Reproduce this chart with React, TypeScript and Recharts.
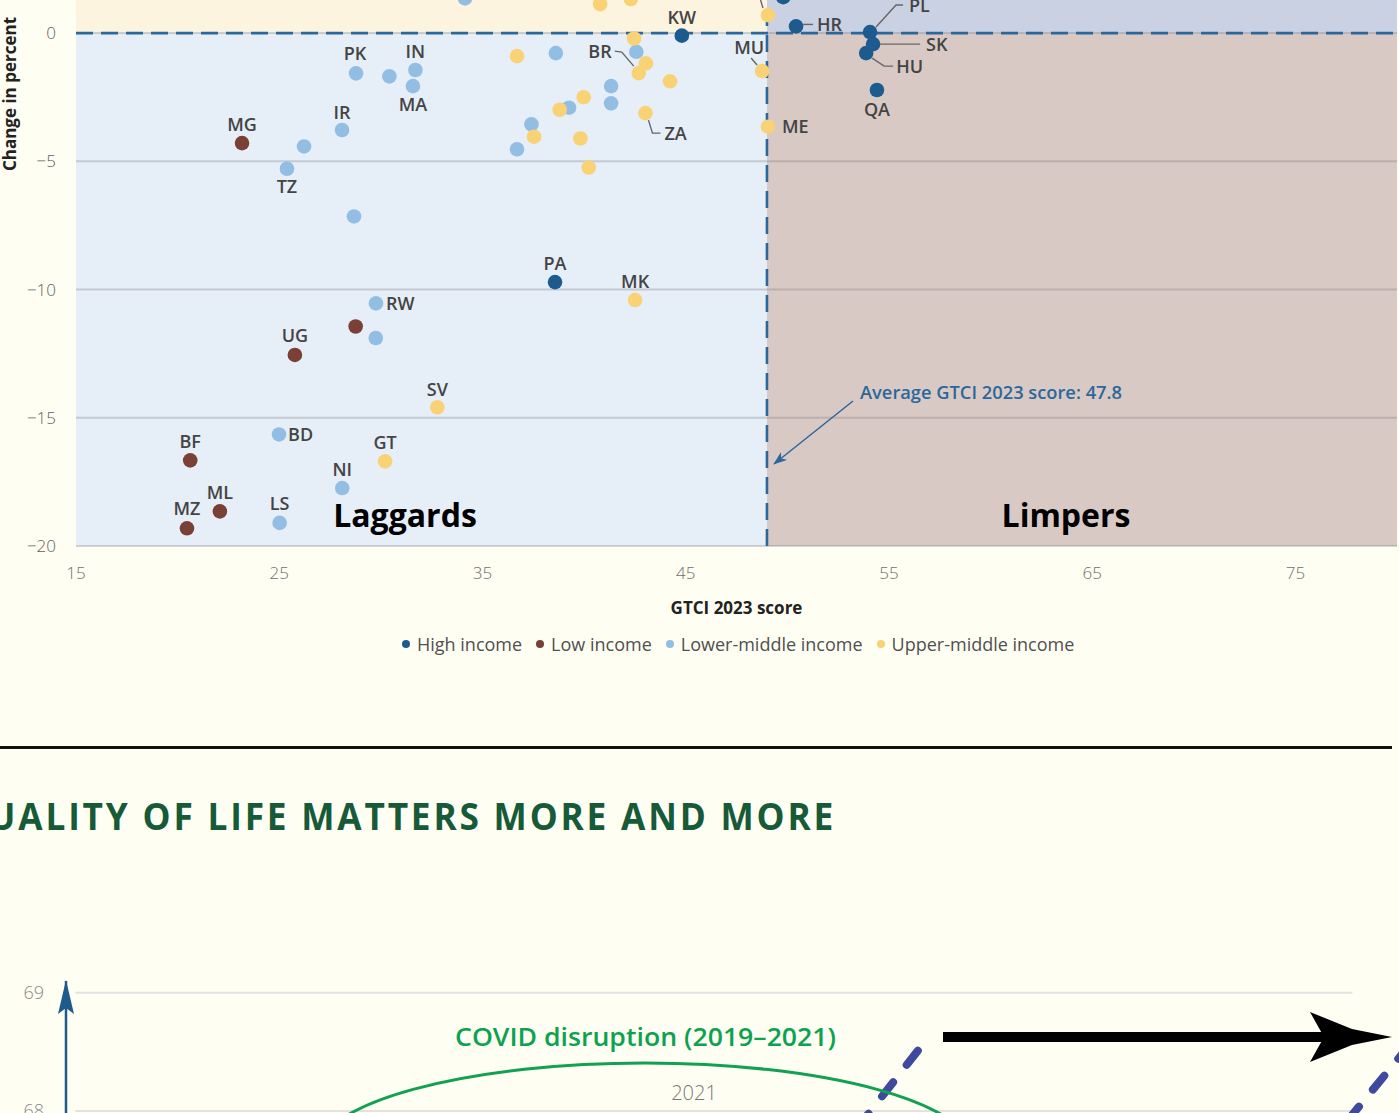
import React from 'react';
import {
  ScatterChart,
  Scatter,
  XAxis,
  YAxis,
  ReferenceArea,
  ReferenceLine,
  LineChart,
  Line,
} from 'recharts';

type Pt = { x: number; y: number; code?: string };

// GTCI 2023 score (x) vs change in percent (y), by income group
const highIncome: Pt[] = [
  { x: 49.8, y: 1.4 },
  { x: 44.81, y: -0.1, code: 'KW' },
  { x: 50.43, y: 0.26, code: 'HR' },
  { x: 54.07, y: 0.04, code: 'PL' },
  { x: 53.88, y: -0.78, code: 'HU' },
  { x: 54.22, y: -0.43, code: 'SK' },
  { x: 54.41, y: -2.22, code: 'QA' },
  { x: 38.57, y: -9.71, code: 'PA' },
];

const lowIncome: Pt[] = [
  { x: 23.17, y: -4.29, code: 'MG' },
  { x: 28.76, y: -11.44 },
  { x: 25.77, y: -12.55, code: 'UG' },
  { x: 20.62, y: -16.66, code: 'BF' },
  { x: 22.08, y: -18.65, code: 'ML' },
  { x: 20.46, y: -19.31, code: 'MZ' },
];

const lowerMiddleIncome: Pt[] = [
  { x: 34.14, y: 1.35 },
  { x: 28.78, y: -1.57, code: 'PK' },
  { x: 30.42, y: -1.69 },
  { x: 31.7, y: -1.44, code: 'IN' },
  { x: 31.58, y: -2.07, code: 'MA' },
  { x: 28.09, y: -3.78, code: 'IR' },
  { x: 26.22, y: -4.42 },
  { x: 25.38, y: -5.29, code: 'TZ' },
  { x: 28.68, y: -7.15 },
  { x: 38.61, y: -0.78 },
  { x: 42.57, y: -0.73 },
  { x: 41.33, y: -2.07 },
  { x: 41.33, y: -2.74 },
  { x: 39.26, y: -2.91 },
  { x: 37.41, y: -3.56 },
  { x: 36.7, y: -4.53 },
  { x: 29.76, y: -10.54, code: 'RW' },
  { x: 29.75, y: -11.89 },
  { x: 24.99, y: -15.65, code: 'BD' },
  { x: 28.1, y: -17.74, code: 'NI' },
  { x: 25.02, y: -19.1, code: 'LS' },
];

const upperMiddleIncome: Pt[] = [
  { x: 40.79, y: 1.13 },
  { x: 42.3, y: 1.33 },
  { x: 49.05, y: 0.7, code: 'cut' },
  { x: 42.46, y: -0.21 },
  { x: 36.7, y: -0.9 },
  { x: 43.04, y: -1.18 },
  { x: 42.69, y: -1.56, code: 'BR' },
  { x: 44.23, y: -1.88 },
  { x: 39.98, y: -2.5 },
  { x: 38.8, y: -2.99 },
  { x: 43.02, y: -3.12, code: 'ZA' },
  { x: 37.54, y: -4.04 },
  { x: 39.82, y: -4.11 },
  { x: 40.23, y: -5.24 },
  { x: 48.76, y: -1.48, code: 'MU' },
  { x: 49.05, y: -3.65, code: 'ME' },
  { x: 42.51, y: -10.41, code: 'MK' },
  { x: 32.78, y: -14.59, code: 'SV' },
  { x: 30.21, y: -16.7, code: 'GT' },
];

const xTicks = [15, 25, 35, 45, 55, 65, 75];
const yTicks = [-20, -15, -10, -5, 0];
const averageScore = 49;
const legendItems = [
  { name: 'High income', color: '#1D5B8F' },
  { name: 'Low income', color: '#7A3F35' },
  { name: 'Lower-middle income', color: '#93BEE4' },
  { name: 'Upper-middle income', color: '#F8D274' },
];

// lower chart (only its top is visible)
const lowerTicks = [68, 69];
const dashedA = [
  { x: 63.9, y: 68.51 },
  { x: 56.9, y: 67.5 },
];
const dashedB = [
  { x: 100.8, y: 68.56 },
  { x: 93.1, y: 67.5 },
];

type Lay = {
  dx: number;
  dy: number;
  anchor?: 'start' | 'middle' | 'end';
  leader?: [number, number][];
  hideText?: boolean;
};

const labelLayout: Record<string, Lay> = {
  KW: { dx: 0, dy: -18 },
  HR: { dx: 21, dy: -2, anchor: 'start', leader: [[7, -2], [17, -2]] },
  PL: { dx: 39, dy: -27, anchor: 'start', leader: [[6, -5], [26, -27], [33, -27]] },
  SK: { dx: 53, dy: 0, anchor: 'start', leader: [[7, 0], [47, 0]] },
  HU: { dx: 30, dy: 13, anchor: 'start', leader: [[6, 5], [18, 13], [27, 13]] },
  QA: { dx: 0, dy: 19 },
  PA: { dx: 0, dy: -19 },
  MG: { dx: 0, dy: -19 },
  UG: { dx: 0, dy: -19 },
  BF: { dx: 0, dy: -19 },
  ML: { dx: 0, dy: -19 },
  MZ: { dx: 0, dy: -19.5 },
  PK: { dx: -1, dy: -20 },
  IN: { dx: 0, dy: -19 },
  MA: { dx: 0, dy: 18 },
  IR: { dx: 0, dy: -18 },
  TZ: { dx: 0, dy: 18 },
  RW: { dx: 10, dy: 0, anchor: 'start' },
  BD: { dx: 9, dy: 0, anchor: 'start' },
  NI: { dx: 0, dy: -19 },
  LS: { dx: 0, dy: -19 },
  BR: { dx: -27, dy: -22, anchor: 'end', leader: [[-24, -22], [-17, -21], [-5, -7]] },
  ZA: { dx: 19, dy: 20, anchor: 'start', leader: [[3, 7], [7, 20], [15, 20]] },
  MU: { dx: -13, dy: -24, leader: [[-11, -13], [-5, -6]] },
  ME: { dx: 14, dy: 0, anchor: 'start' },
  MK: { dx: 0, dy: -19 },
  SV: { dx: 0, dy: -18 },
  GT: { dx: 0, dy: -19 },
  cut: { dx: 0, dy: -40, hideText: true, leader: [[-5, -7], [-12, -30]] },
};

const dot = (color: string) => (props: any) => {
  const { cx, cy, payload } = props;
  const lay = payload && payload.code ? labelLayout[payload.code] : undefined;
  return (
    <g>
      <circle cx={cx} cy={cy} r={7.3} fill={color} />
      {lay && lay.leader && (
        <polyline
          points={lay.leader.map(([a, b]) => `${cx + a},${cy + b}`).join(' ')}
          fill="none"
          stroke="#666"
          strokeWidth={1.4}
        />
      )}
      {lay && !lay.hideText && (
        <text
          x={cx + lay.dx}
          y={cy + lay.dy + 6.5}
          textAnchor={lay.anchor ?? 'middle'}
          fontSize={18}
          fontWeight={600}
          fill="#444"
        >
          {payload.code}
        </text>
      )}
    </g>
  );
};

const minus = (v: number) => (v < 0 ? `\u2212${Math.abs(v)}` : `${v}`);
const gridStroke = 'rgba(110,110,110,0.28)';
const dashBlue = '#2B679B';

export default function App() {
  return (
    <div
      style={{
        position: 'absolute',
        left: 0,
        top: 0,
        width: 1399,
        height: 1113,
        overflow: 'hidden',
        background: '#FFFEF3',
        fontFamily: '"Open Sans", sans-serif',
      }}
    >
      <div style={{ position: 'absolute', left: 0, top: 0 }}>
        <ScatterChart width={1399} height={700} margin={{ top: 0, right: 2, bottom: 74, left: 0 }}>
          <XAxis
            type="number"
            dataKey="x"
            domain={[15, 80]}
            ticks={xTicks}
            allowDataOverflow
            axisLine={false}
            tickLine={false}
            tickSize={0}
            tickMargin={21}
            height={80}
            tick={{ fontSize: 17, fill: '#6f6f6f', fontWeight: 300 }}
            label={{
              content: (p: any) => {
                const vb = p.viewBox || {};
                return (
                  <text
                    x={vb.x + vb.width / 2}
                    y={vb.y + 68}
                    textAnchor="middle"
                    fontSize={17}
                    fontWeight={700}
                    fill="#222"
                  >
                    GTCI 2023 score
                  </text>
                );
              },
            }}
          />
          <YAxis
            type="number"
            dataKey="y"
            domain={[-20, 1.29]}
            ticks={yTicks}
            allowDataOverflow
            width={76}
            axisLine={false}
            tickLine={false}
            tickSize={0}
            tickMargin={20}
            tickFormatter={minus}
            tick={{ fontSize: 17, fill: '#5f5f5f', fontWeight: 300 }}
          />
          <ReferenceArea x1={15} x2={averageScore} y1={0} y2={1.29} fill="#FDF4E0" fillOpacity={1} />
          <ReferenceArea x1={averageScore} x2={80} y1={0} y2={1.29} fill="#CAD1E3" fillOpacity={1} />
          <ReferenceArea x1={15} x2={averageScore} y1={-20} y2={0} fill="#E6EEF8" fillOpacity={1} />
          <ReferenceArea x1={averageScore} x2={80} y1={-20} y2={0} fill="#D9C9C5" fillOpacity={1} />
          {[-20, -15, -10, -5, 0].map((v) => (
            <ReferenceLine key={v} y={v} stroke={gridStroke} strokeWidth={2} />
          ))}
          <ReferenceLine y={0} stroke={dashBlue} strokeWidth={2.6} strokeDasharray="17 8" />
          <ReferenceLine x={averageScore} stroke={dashBlue} strokeWidth={2.6} strokeDasharray="17 9" />
          <Scatter data={highIncome} fill="#1D5B8F" shape={dot('#1D5B8F')} isAnimationActive={false} />
          <Scatter data={lowIncome} fill="#7A3F35" shape={dot('#7A3F35')} isAnimationActive={false} />
          <Scatter data={lowerMiddleIncome} fill="#93BEE4" shape={dot('#93BEE4')} isAnimationActive={false} />
          <Scatter data={upperMiddleIncome} fill="#F8D274" shape={dot('#F8D274')} isAnimationActive={false} />
        </ScatterChart>
      </div>

      {/* legend */}
      <div
        style={{
          position: 'absolute',
          top: 632,
          left: 402,
          display: 'flex',
          alignItems: 'center',
          fontSize: 18,
          lineHeight: '24px',
          color: '#505050',
          whiteSpace: 'nowrap',
        }}
      >
        {legendItems.map((it) => (
          <span key={it.name} style={{ display: 'inline-flex', alignItems: 'center', marginRight: 14 }}>
            <span
              style={{
                width: 8,
                height: 8,
                borderRadius: '50%',
                background: it.color,
                marginRight: 7,
                display: 'inline-block',
              }}
            />
            {it.name}
          </span>
        ))}
      </div>

      {/* divider */}
      <div style={{ position: 'absolute', top: 745.5, left: 0, width: 1392, height: 3, background: '#111' }} />

      {/* lower chart */}
      <div style={{ position: 'absolute', left: 0, top: 953 }}>
        <LineChart width={1399} height={276} margin={{ top: 28, right: 0, bottom: 0, left: 0 }}>
          <XAxis type="number" dataKey="x" domain={[0, 100]} allowDataOverflow hide />
          <YAxis
            type="number"
            dataKey="y"
            domain={[67, 69.1]}
            ticks={lowerTicks}
            allowDataOverflow
            width={66}
            axisLine={{ stroke: '#1F5A8C', strokeWidth: 2.5 }}
            tickLine={false}
            tickSize={0}
            tickMargin={22}
            tick={{ fontSize: 18, fill: '#8a8a8a', fontWeight: 300 }}
          />
          {lowerTicks.map((v) => (
            <ReferenceLine
              key={v}
              segment={[
                { x: 0.7, y: v },
                { x: 96.5, y: v },
              ]}
              stroke="#e2e2e2"
              strokeWidth={2}
            />
          ))}
          <Line
            data={dashedA}
            dataKey="y"
            type="linear"
            stroke="#3F4A9E"
            strokeWidth={8}
            strokeDasharray="18 22"
            strokeLinecap="round"
            dot={false}
            isAnimationActive={false}
          />
          <Line
            data={dashedB}
            dataKey="y"
            type="linear"
            stroke="#3F4A9E"
            strokeWidth={8}
            strokeDasharray="18 22"
            strokeLinecap="round"
            dot={false}
            isAnimationActive={false}
          />
        </LineChart>
      </div>

      {/* annotations */}
      <svg
        width={1399}
        height={1113}
        style={{ position: 'absolute', left: 0, top: 0, pointerEvents: 'none' }}
      >
        <defs>
          <marker id="avgHead" markerWidth="14" markerHeight="10" refX="13" refY="5" orient="auto" markerUnits="userSpaceOnUse">
            <path d="M0,0 L14,5 L0,10 L4,5 Z" fill={dashBlue} />
          </marker>
        </defs>
        <text transform="translate(16,94) rotate(-90)" textAnchor="middle" fontSize={17} fontWeight={700} fill="#222">
          Change in percent
        </text>
        <text x={405} y={527} textAnchor="middle" fontSize={32} fontWeight={700} fill="#000">
          Laggards
        </text>
        <text x={1066} y={527} textAnchor="middle" fontSize={32} fontWeight={700} fill="#000">
          Limpers
        </text>
        <text
          x={860}
          y={399}
          fontSize={18}
          fontWeight={600}
          fill={dashBlue}
          textLength={262}
          lengthAdjust="spacingAndGlyphs"
        >
          Average GTCI 2023 score: 47.8
        </text>
        <line x1={853} y1={401} x2={774} y2={464} stroke={dashBlue} strokeWidth={1.5} markerEnd="url(#avgHead)" />

        <text
          x={-42}
          y={830}
          fontSize={38}
          fontWeight={700}
          fill="#175A38"
          textLength={878}
          lengthAdjust="spacingAndGlyphs"
          letterSpacing={3}
        >
          QUALITY OF LIFE MATTERS MORE AND MORE
        </text>

        <polygon points="66,980 74,1014 66,1008 58,1014" fill="#1F5A8C" />
        <text
          x={455}
          y={1046}
          fontSize={26}
          fontWeight={600}
          fill="#0DA24F"
          textLength={381}
          lengthAdjust="spacingAndGlyphs"
        >
          COVID disruption (2019–2021)
        </text>
        <ellipse cx={645} cy={1153} rx={328} ry={90} fill="none" stroke="#12A150" strokeWidth={3} />
        <text x={694} y={1100} textAnchor="middle" fontSize={20} fontWeight={300} fill="#777">
          2021
        </text>
        <rect x={943} y={1032} width={382} height={10} fill="#000" />
        <polygon points="1310,1012 1352,1029 1392,1037 1352,1045 1310,1062 1324,1037" fill="#000" />
      </svg>
    </div>
  );
}
